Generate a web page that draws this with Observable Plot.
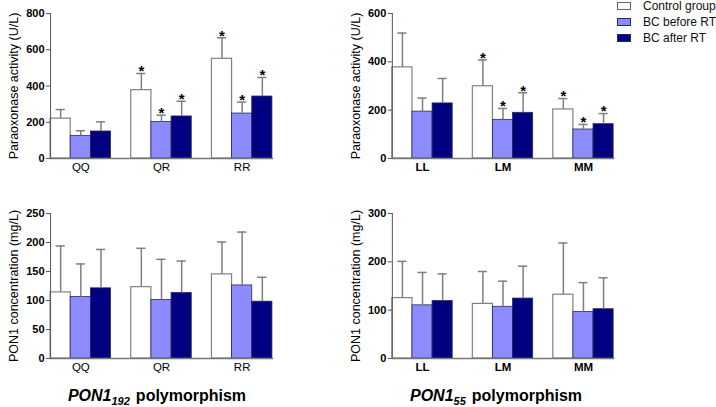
<!DOCTYPE html>
<html><head><meta charset="utf-8">
<script src="https://cdn.jsdelivr.net/npm/d3@7"></script>
<script src="https://cdn.jsdelivr.net/npm/@observablehq/plot@0.6"></script>
<style>
body{margin:0;background:#fff;font-family:"Liberation Sans",Arial,sans-serif;}
#fig{position:relative;width:716px;height:407px;overflow:hidden;background:#fff;}
.panel{position:absolute;}
.title{position:absolute;top:387px;font-size:16px;font-weight:bold;white-space:nowrap;transform:translateX(-50%);color:#000;line-height:18px;}
.title .sub{font-size:11px;font-style:italic;position:relative;top:4px;margin-right:6px;}
.legend{position:absolute;left:617px;top:-2px;font-size:12px;color:#111;white-space:nowrap;}
.legend .row{display:flex;align-items:center;height:16px;}
.legend .sw{width:14px;height:8px;box-sizing:border-box;margin-right:12px;flex:none;}
</style></head>
<body><div id="fig"></div>
<script>
// ---- data ----
const series = ["Control group", "BC before RT", "BC after RT"];
const groups192 = ["QQ", "QR", "RR"];
const groups55 = ["LL", "LM", "MM"];

// Paraoxonase activity (U/L), PON1 192
const act192Mean = {"Control group": [220, 377, 550], "BC before RT": [125, 202, 248], "BC after RT": [149, 232, 342]};
const act192SD   = {"Control group": [50, 92, 116],  "BC before RT": [28, 37, 63],   "BC after RT": [53, 84, 105]};
const act192Sig  = {"Control group": [0, 1, 1],      "BC before RT": [0, 1, 1],      "BC after RT": [0, 1, 1]};

// Paraoxonase activity (U/L), PON1 55
const act55Mean = {"Control group": [377, 299, 203], "BC before RT": [194, 160, 120], "BC after RT": [228, 189, 142]};
const act55SD   = {"Control group": [142, 109, 45],  "BC before RT": [56, 47, 21],    "BC after RT": [103, 83, 44]};
const act55Sig  = {"Control group": [0, 1, 1],       "BC before RT": [0, 1, 1],       "BC after RT": [0, 1, 1]};

// PON1 concentration (mg/L), PON1 192
const conc192Mean = {"Control group": [114, 123, 145], "BC before RT": [106, 101, 126], "BC after RT": [121, 113, 98]};
const conc192SD   = {"Control group": [80, 67, 56],    "BC before RT": [57, 70, 92],    "BC after RT": [67, 55, 42]};

// PON1 concentration (mg/L), PON1 55
const conc55Mean = {"Control group": [125, 113, 132], "BC before RT": [110, 107, 96], "BC after RT": [119, 124, 102]};
const conc55SD   = {"Control group": [76, 67, 107],   "BC before RT": [68, 53, 61],   "BC after RT": [56, 67, 65]};

const yTicksAct192 = [0, 200, 400, 600, 800];
const yTicksAct55 = [0, 200, 400, 600];
const yTicksConc192 = [0, 50, 100, 150, 200, 250];
const yTicksConc55 = [0, 100, 200, 300];

// ---- styles ----
const fills = ["#ffffff", "#8c8cff", "#000080"];
const FONT = "'Liberation Sans', Arial, sans-serif";

function rowsOf(groups, mean, sd, sig) {
  const rows = [];
  groups.forEach((g, gi) => series.forEach(s => {
    rows.push({group: g, series: s, value: mean[s][gi], top: mean[s][gi] + sd[s][gi], sig: sig ? sig[s][gi] : 0});
  }));
  return rows;
}

function panel({groups, mean, sd, sig, ticks, label, width, outer, fxWeight}) {
  const rows = rowsOf(groups, mean, sd, sig);
  return Plot.plot({
    width, height: 180, marginLeft: 40, marginRight: 0, marginTop: 13, marginBottom: 22,
    style: {fontFamily: FONT, background: "transparent", color: "#000"},
    fx: {domain: groups, paddingInner: 0.25, paddingOuter: outer, round: false},
    x: {domain: series, padding: 0, round: false, axis: null},
    y: {domain: [ticks[0], ticks[ticks.length - 1]], axis: null},
    color: {domain: series, range: fills},
    marks: [
      Plot.barY(rows, {filter: d => d.series === series[0], fx: "group", x: "series", y: "value", fill: "series", stroke: "#808080", strokeWidth: 1.2}),
      Plot.barY(rows, {filter: d => d.series !== series[0], fx: "group", x: "series", y: "value", fill: "series", stroke: "#2a2a5a", strokeWidth: 0.8}),
      Plot.ruleX(rows, {fx: "group", x: "series", y1: "value", y2: "top", stroke: "#7f7f7f", strokeWidth: 1.5}),
      Plot.tickY(rows, {fx: "group", x: "series", y: "top", stroke: "#7f7f7f", strokeWidth: 1.5, insetLeft: 5.5, insetRight: 5.5}),
      Plot.text(rows, {filter: d => d.sig, fx: "group", x: "series", y: "top", text: () => "*", fontSize: 15, fontWeight: "bold", dy: -2}),
      Plot.axisY({ticks, tickSize: 4, tickPadding: 2, fontSize: 11, fontWeight: "bold", label: null, stroke: "#555"}),
      Plot.axisY({ticks: [], label, labelAnchor: "center", labelArrow: "none", labelOffset: 41, fontSize: 12.5, fontWeight: "normal"}),
      Plot.axisFx({anchor: "bottom", tickSize: 0, tickPadding: 4, fontSize: 11.5, fontWeight: fxWeight, label: null}),
      Plot.frame({anchor: "left", facet: "super", stroke: "#555"}),
      Plot.frame({anchor: "bottom", facet: "super", stroke: "#777", strokeWidth: 1.3})
    ]
  });
}

const fig = document.getElementById("fig");
function place(el, left, top) {
  const d = document.createElement("div");
  d.className = "panel"; d.style.left = left + "px"; d.style.top = top + "px";
  d.appendChild(el); fig.appendChild(d);
}

place(panel({groups: groups192, mean: act192Mean, sd: act192SD, sig: act192Sig, ticks: yTicksAct192,
  label: "Paraoxonase activity (U/L)", width: 282, outer: 0.125, fxWeight: "normal"}), 0, 0);
place(panel({groups: groups55, mean: act55Mean, sd: act55SD, sig: act55Sig, ticks: yTicksAct55,
  label: "Paraoxonase activity (U/L)", width: 279, outer: 0.11, fxWeight: "bold"}), 343, 0);
place(panel({groups: groups192, mean: conc192Mean, sd: conc192SD, sig: null, ticks: yTicksConc192,
  label: "PON1 concentration (mg/L)", width: 282, outer: 0.125, fxWeight: "normal"}), 0, 200);
place(panel({groups: groups55, mean: conc55Mean, sd: conc55SD, sig: null, ticks: yTicksConc55,
  label: "PON1 concentration (mg/L)", width: 279, outer: 0.11, fxWeight: "bold"}), 343, 200);

// legend
const leg = document.createElement("div");
leg.className = "legend";
series.forEach((s, i) => {
  const r = document.createElement("div"); r.className = "row";
  const sw = document.createElement("span"); sw.className = "sw";
  sw.style.background = fills[i];
  sw.style.border = "1px solid " + (i === 0 ? "#666" : "#2a2a5a");
  const t = document.createElement("span"); t.textContent = s;
  r.appendChild(sw); r.appendChild(t); leg.appendChild(r);
});
fig.appendChild(leg);

// titles
function title(x, sub) {
  const d = document.createElement("div");
  d.className = "title"; d.style.left = x + "px";
  d.innerHTML = '<i>PON1</i><span class="sub">' + sub + '</span>polymorphism';
  fig.appendChild(d);
}
title(157, "192");
title(496, "55");
</script>
</body></html>
